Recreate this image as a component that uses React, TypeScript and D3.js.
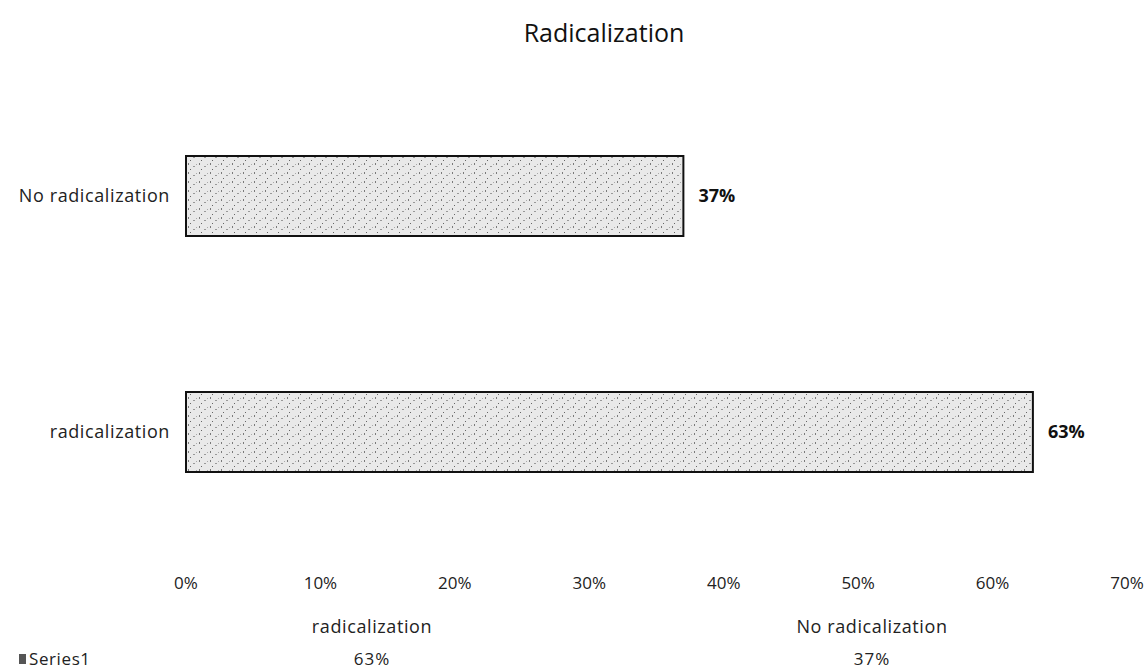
import React, { useEffect, useRef } from 'react';
import * as d3 from 'd3';

const categories = ['No radicalization', 'radicalization'];
const values = [0.37, 0.63];
const tableCategories = ['radicalization', 'No radicalization'];
const tableValues = ['63%', '37%'];
const seriesName = 'Series1';
const ticks = [0, 0.1, 0.2, 0.3, 0.4, 0.5, 0.6, 0.7];

const FONT = '"Open Sans", "Noto Sans", sans-serif';

export default function App() {
  const svgRef = useRef<SVGSVGElement>(null);

  useEffect(() => {
    if (!svgRef.current) return;
    const width = 1145;
    const height = 670;

    const svg = d3.select(svgRef.current)
      .attr('width', width)
      .attr('height', height)
      .attr('viewBox', `0 0 ${width} ${height}`);
    svg.selectAll('*').remove();

    // speckled fill like the scanned bars
    const defs = svg.append('defs');
    const pat = defs.append('pattern')
      .attr('id', 'speck')
      .attr('width', 11)
      .attr('height', 9)
      .attr('patternUnits', 'userSpaceOnUse');
    pat.append('rect').attr('width', 11).attr('height', 9).attr('fill', '#e9e9e9');
    pat.append('rect').attr('x', 1).attr('y', 1).attr('width', 1).attr('height', 2).attr('fill', '#7a7a7a');
    pat.append('rect').attr('x', 6).attr('y', 4).attr('width', 2).attr('height', 1).attr('fill', '#999');
    pat.append('rect').attr('x', 3).attr('y', 7).attr('width', 1).attr('height', 1).attr('fill', '#666');
    pat.append('rect').attr('x', 9).attr('y', 2).attr('width', 1).attr('height', 1).attr('fill', '#aaa');

    const x = d3.scaleLinear().domain([0, 0.7]).range([186, 1127]);
    const y = d3.scaleBand<string>()
      .domain(categories)
      .range([38, 590])
      .paddingInner(0.661)
      .paddingOuter(0.5);

    // title
    svg.append('text')
      .attr('x', 604)
      .attr('y', 42)
      .attr('text-anchor', 'middle')
      .attr('font-family', FONT)
      .attr('font-size', 25)
      .attr('fill', '#111')
      .text('Radicalization');

    // bars
    svg.selectAll('.bar')
      .data(categories)
      .enter()
      .append('rect')
      .attr('class', 'bar')
      .attr('x', x(0))
      .attr('y', d => y(d)!)
      .attr('width', (d, i) => x(values[i]) - x(0))
      .attr('height', y.bandwidth())
      .attr('fill', 'url(#speck)')
      .attr('stroke', '#111')
      .attr('stroke-width', 2);

    // value labels
    svg.selectAll('.val')
      .data(categories)
      .enter()
      .append('text')
      .attr('x', (d, i) => x(values[i]) + 15)
      .attr('y', d => y(d)! + y.bandwidth() / 2)
      .attr('dy', '0.35em')
      .attr('font-family', FONT)
      .attr('font-size', 18)
      .attr('font-weight', 'bold')
      .attr('fill', '#111')
      .text((d, i) => `${Math.round(values[i] * 100)}%`);

    // category labels
    svg.selectAll('.cat')
      .data(categories)
      .enter()
      .append('text')
      .attr('x', 170)
      .attr('y', d => y(d)! + y.bandwidth() / 2)
      .attr('dy', '0.35em')
      .attr('text-anchor', 'end')
      .attr('font-family', FONT)
      .attr('font-size', 18)
      .attr('letter-spacing', 0.6)
      .attr('fill', '#222')
      .text(d => d);

    // x tick labels
    svg.selectAll('.tick')
      .data(ticks)
      .enter()
      .append('text')
      .attr('x', d => x(d))
      .attr('y', 583)
      .attr('dy', '0.35em')
      .attr('text-anchor', 'middle')
      .attr('font-family', FONT)
      .attr('font-size', 17)
      .attr('fill', '#222')
      .text(d => `${Math.round(d * 100)}%`);

    // data table under axis
    const col = d3.scalePoint<string>().domain(tableCategories).range([372, 872]);
    svg.selectAll('.thead')
      .data(tableCategories)
      .enter()
      .append('text')
      .attr('x', d => col(d)!)
      .attr('y', 627)
      .attr('dy', '0.35em')
      .attr('text-anchor', 'middle')
      .attr('font-family', FONT)
      .attr('font-size', 18)
      .attr('letter-spacing', 0.6)
      .attr('fill', '#222')
      .text(d => d);

    svg.selectAll('.tval')
      .data(tableCategories)
      .enter()
      .append('text')
      .attr('x', d => col(d)!)
      .attr('y', 659)
      .attr('dy', '0.35em')
      .attr('text-anchor', 'middle')
      .attr('font-family', FONT)
      .attr('font-size', 17)
      .attr('letter-spacing', 1)
      .attr('fill', '#222')
      .text((d, i) => tableValues[i]);

    svg.append('rect')
      .attr('x', 19)
      .attr('y', 654)
      .attr('width', 7)
      .attr('height', 10)
      .attr('fill', '#555');
    svg.append('text')
      .attr('x', 29)
      .attr('y', 659)
      .attr('dy', '0.35em')
      .attr('font-family', FONT)
      .attr('font-size', 17)
      .attr('letter-spacing', 0.6)
      .attr('fill', '#222')
      .text(seriesName);
  }, []);

  return (
    <div style={{ position: 'fixed', left: 0, top: 0 }}>
      <svg ref={svgRef} style={{ display: 'block', background: '#fff' }}></svg>
    </div>
  );
}
